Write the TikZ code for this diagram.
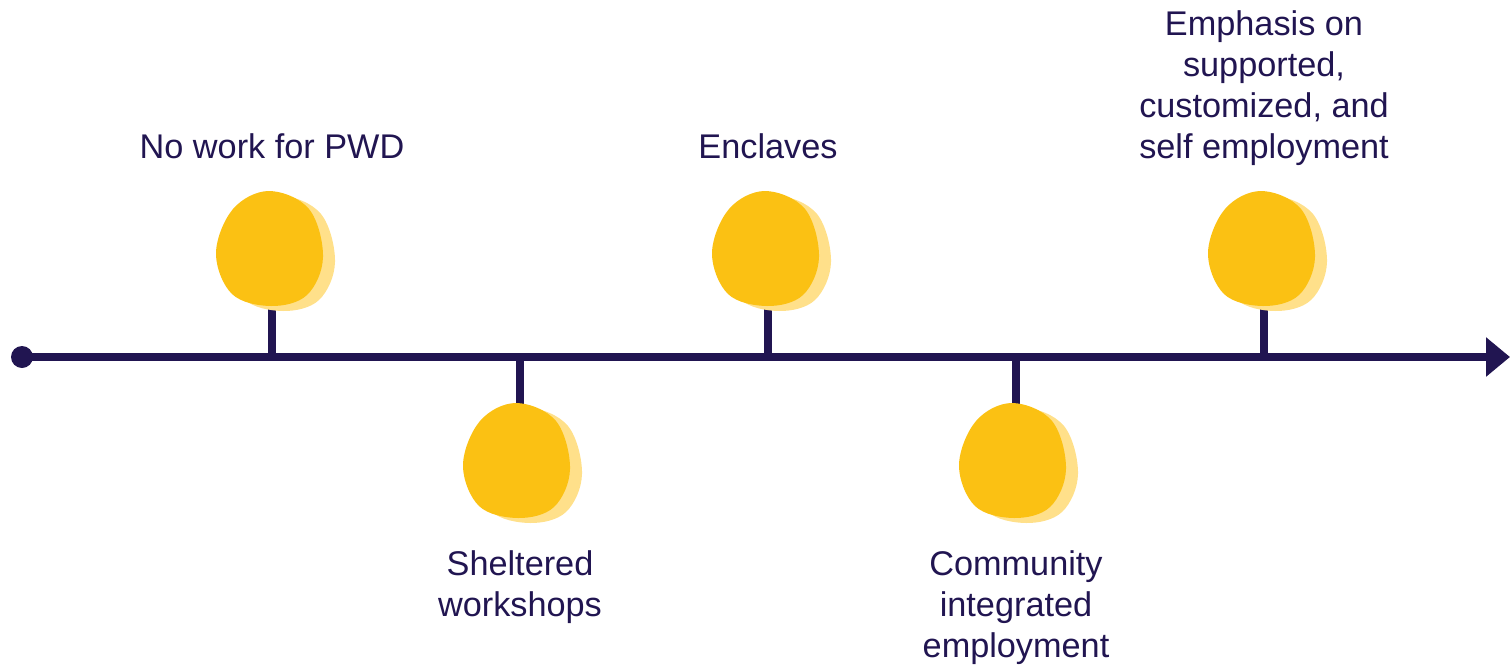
\documentclass[tikz,border=0pt]{standalone}
\usepackage{fontspec}
\setmainfont{Liberation Sans}
\usetikzlibrary{arrows.meta}

\definecolor{ink}{RGB}{33,21,81}
\definecolor{sun}{RGB}{251,193,19}
\definecolor{sunlight}{RGB}{255,224,138}

\tikzset{
	blob/.pic={
		\fill[sunlight, shift={(12,5)}] plot[smooth cycle, tension=0.6] coordinates {(0,-58) (40,-40) (54,8) (38,46) (2,57) (-37,45) (-53,4) (-36,-40)};
		\fill[sun] plot[smooth cycle, tension=0.6] coordinates {(0,-58) (40,-40) (54,8) (38,46) (2,57) (-37,45) (-53,4) (-36,-40)};
	},
	stage/.style={font=\fontsize{19.5}{23.3}\selectfont, text=ink, align=center, inner sep=0pt},
}

\begin{document}
\begin{tikzpicture}[x=0.02cm, y=-0.02cm, line width=4.5pt]
	\useasboundingbox (0,0) rectangle (1512,667);
	\coordinate (start) at (22,357);
	\coordinate (end) at (1510,357);
	% stages above the line
	\foreach \x/\name/\txt in {272/nowork/{No work for PWD}, 768/enclaves/{Enclaves}, 1264/emphasis/{Emphasis on\\supported,\\customized, and\\self employment}} {
		\coordinate (\name) at (\x,357);
		\coordinate (\name-top) at (\x,300);
		\draw[ink] (\name) -- (\name-top);
		\pic at (\x-3,249) {blob};
		\node[stage, anchor=south, text depth=0pt] (\name-label) at (\x,162) {\txt};
	}
	% stages below the line
	\foreach \x/\name/\txt in {520/sheltered/{Sheltered\\workshops}, 1016/community/{Community\\integrated\\employment}} {
		\coordinate (\name) at (\x,357);
		\coordinate (\name-bottom) at (\x,410);
		\draw[ink] (\name) -- (\name-bottom);
		\pic at (\x-4,461) {blob};
		\node[stage, anchor=north] (\name-label) at (\x,547) {\txt};
	}
	\draw[ink, -{Triangle[length=0.48cm, width=0.76cm]}] (start) -- (end);
	\fill[ink] (start) circle (0.22cm);
\end{tikzpicture}
\end{document}
